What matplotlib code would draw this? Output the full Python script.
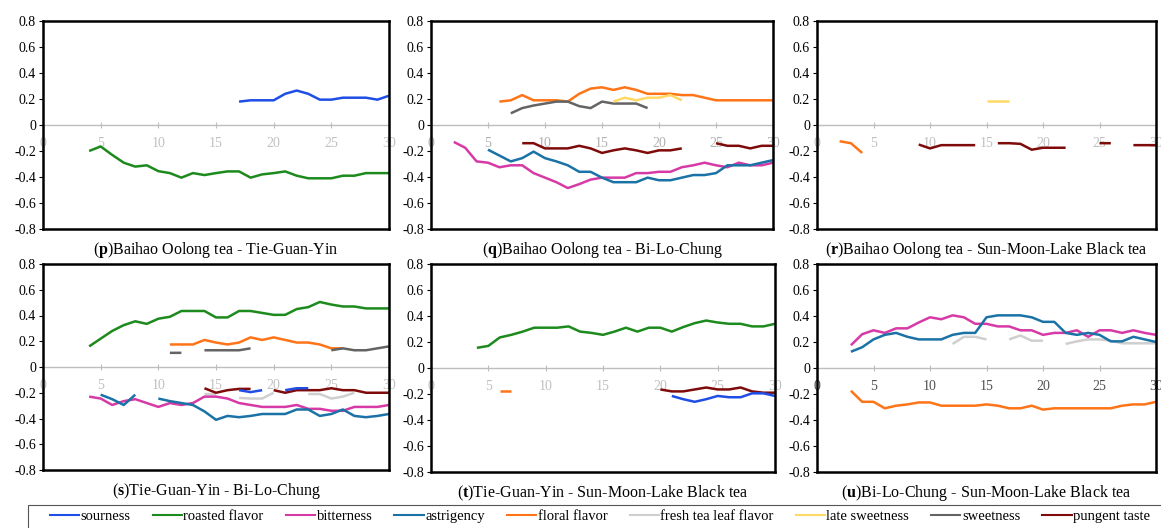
import matplotlib
matplotlib.use("Agg")
import matplotlib.pyplot as plt
from matplotlib.patches import Rectangle
import numpy as np

plt.rcParams["font.family"] = ["Liberation Serif", "DejaVu Serif"]
plt.rcParams["mathtext.fontset"] = "custom"
plt.rcParams["mathtext.rm"] = "Liberation Serif"
plt.rcParams["mathtext.bf"] = "Liberation Serif:bold"

# flavour names and colours (legend order)
names = ["sourness", "roasted flavor", "bitterness", "astrigency", "floral flavor",
         "fresh tea leaf flavor", "late sweetness", "sweetness", "pungent taste"]
colors = ["#1f4ee6", "#1c8a1c", "#d63aa6", "#1a72a6", "#ff7417",
          "#cfcfcf", "#ffd966", "#646464", "#7f0a0a"]

ytick_vals = [-0.8, -0.6, -0.4, -0.2, 0, 0.2, 0.4, 0.6, 0.8]
ytick_labels = ["-0.8", "-0.6", "-0.4", "-0.2", "0", "0.2", "0.4", "0.6", "0.8"]
xtick_vals = [0, 5, 10, 15, 20, 25, 30]

# each series: (first x, values); None = gap
# (p) Baihao Oolong tea - Tie-Guan-Yin
p_sourness = (17, [0.18, 0.19, 0.19, 0.19, 0.24, 0.265, 0.24, 0.195, 0.195, 0.21, 0.21, 0.21, 0.195, 0.225])
p_roasted = (4, [-0.20, -0.165, -0.23, -0.29, -0.32, -0.31, -0.355, -0.37, -0.405, -0.37, -0.385, -0.37,
                 -0.357, -0.357, -0.405, -0.38, -0.37, -0.357, -0.39, -0.41, -0.41, -0.41, -0.39, -0.39,
                 -0.37, -0.37, -0.37])

# (q) Baihao Oolong tea - Bi-Lo-Chung
q_floral = (6, [0.18, 0.19, 0.23, 0.19, 0.19, 0.19, 0.18, 0.24, 0.28, 0.29, 0.27, 0.29, 0.27, 0.24,
                0.24, 0.24, 0.23, 0.23, 0.21, 0.19, 0.19, 0.19, 0.19, 0.19, 0.19])
q_sweetness = (7, [0.09, 0.13, 0.15, 0.165, 0.18, 0.18, 0.145, 0.13, 0.18, 0.165, 0.165, 0.165, 0.13])
q_late = (16, [0.18, 0.21, 0.19, 0.21, 0.21, 0.23, 0.19])
q_pungent = (8, [-0.14, -0.14, -0.18, -0.18, -0.18, -0.16, -0.18, -0.215, -0.195, -0.18, -0.195, -0.215,
                 -0.195, -0.195, -0.18, None, None, -0.14, -0.16, -0.16, -0.18, -0.16, -0.16])
q_bitterness = (2, [-0.13, -0.175, -0.28, -0.29, -0.325, -0.31, -0.31, -0.37, -0.405, -0.44, -0.485, -0.455,
                    -0.42, -0.405, -0.405, -0.405, -0.37, -0.37, -0.36, -0.36, -0.325, -0.31, -0.29, -0.31,
                    -0.325, -0.29, -0.31, -0.31, -0.29])
q_astrigency = (5, [-0.19, -0.235, -0.28, -0.255, -0.205, -0.255, -0.28, -0.31, -0.36, -0.36, -0.405, -0.44,
                    -0.44, -0.44, -0.405, -0.425, -0.425, -0.405, -0.385, -0.385, -0.37, -0.31, -0.31, -0.31,
                    -0.29, -0.27])

# (r) Baihao Oolong tea - Sun-Moon-Lake Black tea
r_floral = (2, [-0.125, -0.14, -0.215])
r_late = (15, [0.185, 0.185, 0.185])
r_pungent = (9, [-0.15, -0.18, -0.155, -0.155, -0.155, -0.155, None, -0.14, -0.14, -0.145, -0.19, -0.175,
                 -0.175, -0.175, None, None, -0.14, -0.14, None, -0.155, -0.155, -0.155])

# (s) Tie-Guan-Yin - Bi-Lo-Chung
s_roasted = (4, [0.16, 0.22, 0.28, 0.325, 0.355, 0.335, 0.375, 0.39, 0.435, 0.435, 0.435, 0.385, 0.385,
                 0.435, 0.435, 0.42, 0.405, 0.405, 0.45, 0.465, 0.505, 0.485, 0.47, 0.47, 0.455, 0.455, 0.455])
s_floral = (11, [0.175, 0.175, 0.175, 0.21, 0.19, 0.175, 0.19, 0.23, 0.21, 0.23, 0.21, 0.19, 0.19, 0.175,
                 0.145, 0.145])
s_sweetness = (11, [0.11, 0.11, None, 0.13, 0.13, 0.13, 0.13, 0.145, None, None, None, None, None, None,
                    0.13, 0.145, 0.13, 0.13, 0.145, 0.16])
s_pungent = (14, [-0.165, -0.2, -0.18, -0.17, -0.17, None, -0.18, -0.2, -0.18, -0.18, -0.18, -0.165,
                  -0.18, -0.18, -0.2, -0.2, -0.2])
s_sourness = (17, [-0.18, -0.195, -0.18, None, -0.18, -0.165, -0.165])
s_fresh = (14, [-0.21, -0.21, None, -0.24, -0.245, -0.245, -0.2, None, None, -0.21, -0.21, -0.245, -0.23, -0.2])
s_bitterness = (4, [-0.23, -0.245, -0.295, -0.265, -0.25, -0.28, -0.31, -0.28, -0.295, -0.28, -0.23, -0.23,
                    -0.245, -0.28, -0.295, -0.31, -0.31, -0.31, -0.295, -0.325, -0.325, -0.34, -0.34, -0.31,
                    -0.31, -0.31, -0.295])
s_astrigency = (5, [-0.215, -0.25, -0.295, -0.215, None, -0.245, -0.265, -0.28, -0.295, -0.345, -0.41, -0.38,
                    -0.39, -0.38, -0.365, -0.365, -0.365, -0.33, -0.33, -0.38, -0.365, -0.33, -0.38, -0.39,
                    -0.38, -0.365])

# (t) Tie-Guan-Yin - Sun-Moon-Lake Black tea
t_roasted = (4, [0.155, 0.17, 0.235, 0.255, 0.28, 0.31, 0.31, 0.31, 0.32, 0.28, 0.27, 0.255, 0.28, 0.31,
                 0.28, 0.31, 0.31, 0.28, 0.315, 0.345, 0.365, 0.35, 0.34, 0.34, 0.32, 0.32, 0.34])
t_floral = (6, [-0.18, -0.18])
t_pungent = (20, [-0.165, -0.18, -0.18, -0.165, -0.15, -0.165, -0.165, -0.15, -0.18, -0.19, -0.19])
t_sourness = (21, [-0.215, -0.24, -0.26, -0.24, -0.215, -0.225, -0.225, -0.195, -0.195, -0.215])

# (u) Bi-Lo-Chung - Sun-Moon-Lake Black tea
u_bitterness = (3, [0.175, 0.26, 0.29, 0.27, 0.305, 0.305, 0.35, 0.39, 0.375, 0.405, 0.39, 0.34, 0.34, 0.32,
                    0.32, 0.29, 0.29, 0.255, 0.27, 0.27, 0.29, 0.24, 0.29, 0.29, 0.27, 0.29, 0.27, 0.255])
u_astrigency = (3, [0.125, 0.16, 0.22, 0.255, 0.27, 0.24, 0.22, 0.22, 0.22, 0.255, 0.27, 0.27, 0.39, 0.405,
                    0.405, 0.405, 0.39, 0.355, 0.355, 0.27, 0.255, 0.27, 0.255, 0.205, 0.205, 0.24, 0.22, 0.2])
u_fresh = (12, [0.185, 0.24, 0.24, 0.22, None, 0.22, 0.25, 0.21, 0.21, None, 0.185, 0.205, 0.22, 0.22, 0.21,
                0.19, 0.19, 0.19, 0.19])
u_floral = (3, [-0.175, -0.26, -0.26, -0.31, -0.29, -0.28, -0.265, -0.265, -0.29, -0.29, -0.29, -0.29, -0.28,
                -0.29, -0.31, -0.31, -0.29, -0.32, -0.31, -0.31, -0.31, -0.31, -0.31, -0.31, -0.29, -0.28,
                -0.28, -0.26])

panels = [
    ("p", "Baihao Oolong tea - Tie-Guan-Yin",
     {"sourness": p_sourness, "roasted flavor": p_roasted}),
    ("q", "Baihao Oolong tea - Bi-Lo-Chung",
     {"floral flavor": q_floral, "sweetness": q_sweetness, "late sweetness": q_late,
      "pungent taste": q_pungent, "bitterness": q_bitterness, "astrigency": q_astrigency}),
    ("r", "Baihao Oolong tea - Sun-Moon-Lake Black tea",
     {"floral flavor": r_floral, "late sweetness": r_late, "pungent taste": r_pungent}),
    ("s", "Tie-Guan-Yin - Bi-Lo-Chung",
     {"roasted flavor": s_roasted, "floral flavor": s_floral, "sweetness": s_sweetness,
      "fresh tea leaf flavor": s_fresh, "pungent taste": s_pungent, "sourness": s_sourness,
      "bitterness": s_bitterness, "astrigency": s_astrigency}),
    ("t", "Tie-Guan-Yin - Sun-Moon-Lake Black tea",
     {"roasted flavor": t_roasted, "floral flavor": t_floral, "pungent taste": t_pungent,
      "sourness": t_sourness}),
    ("u", "Bi-Lo-Chung - Sun-Moon-Lake Black tea",
     {"fresh tea leaf flavor": u_fresh, "bitterness": u_bitterness, "astrigency": u_astrigency,
      "floral flavor": u_floral}),
]

# axes rectangles in pixels: left, top, right, bottom
W, H = 1161, 528
boxes = [(43, 21, 389, 229), (431, 21, 773, 229), (817, 21, 1156, 229),
         (43, 264, 389, 470), (431, 264, 775, 472), (817, 264, 1156, 472)]
xlabel_colors = ["#c0c0c0", "#b0b0b0", "#c0c0c0", "#c0c0c0", "#c0c0c0", "#505050"]

fig = plt.figure(figsize=(W / 100, H / 100), dpi=100)
color_of = dict(zip(names, colors))

for (letter, title, series), (l, t, r, b), xc in zip(panels, boxes, xlabel_colors):
    ax = fig.add_axes([l / W, 1 - b / H, (r - l) / W, (b - t) / H])
    for name, (x0, vals) in series.items():
        y = np.array([np.nan if v is None else v for v in vals], dtype=float)
        x = np.arange(x0, x0 + len(y))
        ax.plot(x, y, color=color_of[name], lw=1.8, solid_capstyle="butt")
    ax.set_xlim(0, 30)
    ax.set_ylim(-0.8, 0.8)
    ax.set_yticks(ytick_vals)
    ax.set_yticklabels(ytick_labels)
    ax.tick_params(axis="y", direction="out", length=3, width=0.8, labelsize=10, pad=2)
    ax.tick_params(axis="x", bottom=False, labelbottom=False)
    for sp in ax.spines.values():
        sp.set_linewidth(1.8)
        sp.set_color("black")
    # zero line carrying the x ticks
    sec = ax.secondary_xaxis(0.4999)
    sec.set_xticks(xtick_vals)
    sec.spines["bottom"].set_color("#bdbdbd")
    sec.spines["bottom"].set_linewidth(1.0)
    sec.tick_params(direction="inout", length=5, width=0.8, color="#bdbdbd",
                    labelsize=10, labelcolor=xc, pad=6)
    ax.text(0.5, -0.055, r"($\mathbf{" + letter + "}$)" + title, transform=ax.transAxes,
            ha="center", va="top", fontsize=11.5)

# legend frame, running off the bottom and right edges
fig.patches.append(Rectangle((28 / W, -0.05), 1.1, (1 - 505 / H) + 0.05, transform=fig.transFigure,
                             fill=False, edgecolor="#555555", lw=0.8))
handles = [plt.Line2D([], [], color=c, lw=1.5) for c in colors]
leg = fig.legend(handles, names, loc="upper left", ncol=9, mode="expand",
                 bbox_to_anchor=(50 / W, 1 - 510 / H, (1150 - 50) / W, 0),
                 fontsize=10.5, frameon=False, handlelength=2.0,
                 handletextpad=0.1, borderpad=0, borderaxespad=0)

fig.savefig("out.png", dpi=100)
